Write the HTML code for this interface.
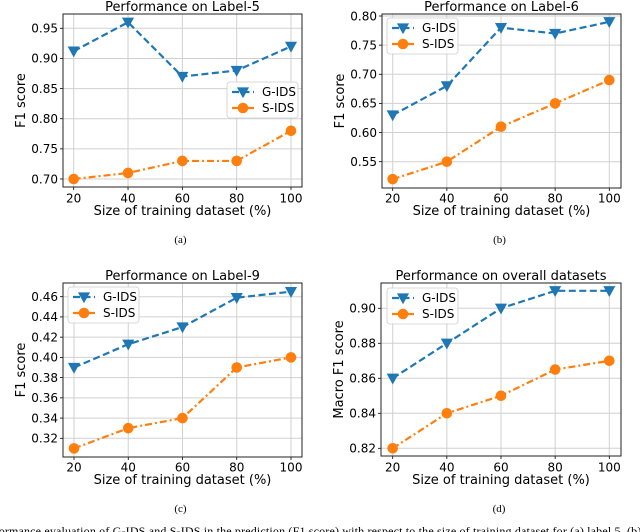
<!DOCTYPE html>
<html><head><meta charset="utf-8"><style>
html,body{margin:0;padding:0;background:#fff;width:640px;height:532px;overflow:hidden}
svg{display:block;font-family:"DejaVu Sans","Liberation Sans",sans-serif}
</style></head><body>
<svg id="fig" width="640" height="532" viewBox="0 0 640 532" xmlns="http://www.w3.org/2000/svg"></svg>
<script>
const categories = [20, 40, 60, 80, 100];
const gidsA = [0.912, 0.96, 0.87, 0.88, 0.92];
const sidsA = [0.70, 0.71, 0.73, 0.73, 0.78];
const gidsB = [0.63, 0.68, 0.78, 0.77, 0.79];
const sidsB = [0.52, 0.55, 0.61, 0.65, 0.69];
const gidsC = [0.39, 0.413, 0.43, 0.459, 0.465];
const sidsC = [0.31, 0.33, 0.34, 0.39, 0.40];
const gidsD = [0.86, 0.88, 0.90, 0.91, 0.91];
const sidsD = [0.82, 0.84, 0.85, 0.865, 0.87];
const ticksA = ["0.70","0.75","0.80","0.85","0.90","0.95"];
const ticksB = ["0.55","0.60","0.65","0.70","0.75","0.80"];
const ticksC = ["0.32","0.34","0.36","0.38","0.40","0.42","0.44","0.46"];
const ticksD = ["0.82","0.84","0.86","0.88","0.90"];

const NS = "http://www.w3.org/2000/svg";
const svg = document.getElementById('fig');
function el(tag, attrs, parent, text){
  const e = document.createElementNS(NS, tag);
  for (const k in attrs) e.setAttribute(k, attrs[k]);
  if (text !== undefined) e.textContent = text;
  (parent || svg).appendChild(e);
  return e;
}
const BLUE = "#1f77b4", ORANGE = "#ff7f0e";

const panels = [
  {id:"a", title:"Performance on Label-5", ylabel:"F1 score", box:[63,14,302,187], x0:73.7, x1:291, v0:0.70, p0:179, v1:0.95, p1:28.3, ticks:ticksA, g:gidsA, s:sidsA, leg:[227,82], sub:"(a)", xt:198, xl:215, st:243},
  {id:"b", title:"Performance on Label-6", ylabel:"F1 score", box:[382,14,621,188], x0:392.7, x1:609.3, v0:0.55, p0:161.7, v1:0.80, p1:16, ticks:ticksB, g:gidsB, s:sidsB, leg:[387,18], sub:"(b)", xt:198, xl:215, st:243},
  {id:"c", title:"Performance on Label-9", ylabel:"F1 score", box:[63,283,302,457], x0:74, x1:291, v0:0.32, p0:438.3, v1:0.46, p1:296.7, ticks:ticksC, g:gidsC, s:sidsC, leg:[68,287], sub:"(c)", xt:467, xl:484, st:512},
  {id:"d", title:"Performance on overall datasets", ylabel:"Macro F1 score", box:[381,283,621,456], x0:392.7, x1:609.3, v0:0.82, p0:448.3, v1:0.90, p1:308.3, ticks:ticksD, g:gidsD, s:sidsD, leg:[387,288], sub:"(d)", xt:467, xl:484, st:512}
];

function triangle(g, x, y, r, name){
  const t = el('path', {d:`M${x-r},${y-r*0.8} L${x+r},${y-r*0.8} L${x},${y+r}Z`, fill:BLUE, stroke:BLUE, 'stroke-width':1}, g);
  
  
  return t;
}
function circle(g, x, y, r, name){
  const c = el('circle', {cx:x, cy:y, r:r, fill:ORANGE}, g);
  
  
  return c;
}

panels.forEach(P => {
  const g = el('g', {});
  
  
  const [L,T,R,B] = P.box;
  const xs = i => P.x0 + (P.x1 - P.x0) * (categories[i] - categories[0]) / (categories[categories.length-1] - categories[0]);
  const ys = v => P.p0 + (P.p1 - P.p0) * (v - P.v0) / (P.v1 - P.v0);
  categories.forEach((c,i) => {
    const x = xs(i);
    el('line', {x1:x, x2:x, y1:T, y2:B, stroke:'#d0d0d0', 'stroke-width':1}, g);
    el('line', {x1:x, x2:x, y1:B, y2:B+3, stroke:'#000', 'stroke-width':0.8}, g);
    const t = el('text', {x:x, y:P.xt + 4.5, 'font-size':12, 'text-anchor':'middle'}, g, String(c));
    
    
  });
  P.ticks.forEach(tv => {
    const y = ys(parseFloat(tv));
    el('line', {x1:L, x2:R, y1:y, y2:y, stroke:'#d0d0d0', 'stroke-width':1}, g);
    el('line', {x1:L-3, x2:L, y1:y, y2:y, stroke:'#000', 'stroke-width':0.8}, g);
    const t = el('text', {x:L-5, y:y+4.3, 'font-size':12, 'text-anchor':'end'}, g, tv);
    
    
  });
  const frame = el('rect', {x:L, y:T, width:R-L, height:B-T, fill:'none', stroke:'#222', 'stroke-width':1}, g);
  
  
  const gp = P.g.map((v,i) => `${xs(i)},${ys(v)}`).join(' ');
  const gl = el('polyline', {points:gp, fill:'none', stroke:BLUE, 'stroke-width':2.2, 'stroke-dasharray':'7,3.5'}, g);
  
  
  const sp = P.s.map((v,i) => `${xs(i)},${ys(v)}`).join(' ');
  const sl = el('polyline', {points:sp, fill:'none', stroke:ORANGE, 'stroke-width':2.2, 'stroke-dasharray':'7,3,2,3'}, g);
  
  
  P.g.forEach((v,i) => triangle(g, xs(i), ys(v), 5.2, 'gids-point'));
  P.s.forEach((v,i) => circle(g, xs(i), ys(v), 5.3, 'sids-point'));
  const tt = el('text', {x:(L+R)/2, y:T-3, 'font-size':13, 'text-anchor':'middle'}, g, P.title);
  
  
  const xl = el('text', {x:(L+R)/2, y:P.xl, 'font-size':13, 'text-anchor':'middle'}, g, 'Size of training dataset (%)');
  
  
  const yc = (T+B)/2;
  const yl = el('text', {x:0, y:0, 'font-size':13, 'text-anchor':'middle', transform:`translate(${L-38},${yc}) rotate(-90)`}, g, P.ylabel);
  
  
  const st = el('text', {x:(L+R)/2 - 2, y:P.st, 'font-size':11, 'text-anchor':'middle', 'font-family':'"Liberation Serif",serif'}, g, P.sub);
  
  
  const [lx,ly] = P.leg;
  const lg = el('g', {}, g);
  
  
  el('rect', {x:lx, y:ly, width:71, height:36, rx:3, fill:'#fff', 'fill-opacity':0.85, stroke:'#ccc', 'stroke-width':0.8}, lg);
  el('line', {x1:lx+5, x2:lx+27, y1:ly+10, y2:ly+10, stroke:BLUE, 'stroke-width':2.2, 'stroke-dasharray':'7,3.5'}, lg);
  triangle(lg, lx+16, ly+10, 5.2, 'legend-gids-marker');
  const t1 = el('text', {x:lx+35, y:ly+14, 'font-size':12}, lg, 'G-IDS');
  
  
  el('line', {x1:lx+5, x2:lx+27, y1:ly+26, y2:ly+26, stroke:ORANGE, 'stroke-width':2.2, 'stroke-dasharray':'7,3,2,3'}, lg);
  circle(lg, lx+16, ly+26, 5.3, 'legend-sids-marker');
  const t2 = el('text', {x:lx+35, y:ly+30, 'font-size':12}, lg, 'S-IDS');
  
  
});
const cap = el('text', {x:-22, y:535, 'font-size':12, 'font-family':'"Liberation Serif",serif', textLength:700}, svg, 'Performance evaluation of G-IDS and S-IDS in the prediction (F1 score) with respect to the size of training dataset for (a) label 5, (b) label 6');


</script>
</body></html>
